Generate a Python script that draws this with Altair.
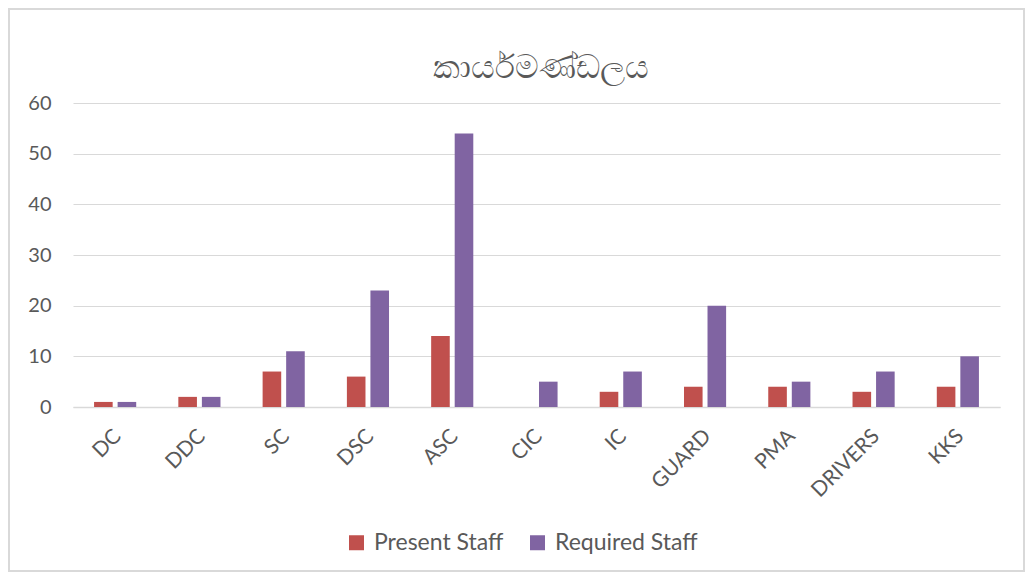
import altair as alt
import pandas as pd

categories = ["DC", "DDC", "SC", "DSC", "ASC", "CIC", "IC", "GUARD", "PMA", "DRIVERS", "KKS"]
present_staff = [1, 2, 7, 6, 14, 0, 3, 4, 4, 3, 4]
required_staff = [1, 2, 11, 23, 54, 5, 7, 20, 5, 7, 10]
series = ["Present Staff", "Required Staff"]
colors = ["#C0504D", "#8064A2"]
title_text = "කාර්යමණ්ඩලය"

rows = []
for c, p, r in zip(categories, present_staff, required_staff):
    rows.append({"cat": c, "series": series[0], "value": p})
    rows.append({"cat": c, "series": series[1], "value": r})
df = pd.DataFrame(rows)

W, H = 927, 304
FONT = "Lato"
GREY = "#595959"

bars = alt.Chart(df).mark_bar().encode(
    x=alt.X("cat:N", sort=categories, title=None,
            scale=alt.Scale(paddingInner=0.5, paddingOuter=0.25),
            axis=alt.Axis(labelAngle=-45, labelFontSize=21, labelColor=GREY, labelFont=FONT,
                          ticks=False, domainColor="#D9D9D9", domainWidth=1.5,
                          labelPadding=18, labelOffset=-5, grid=False)),
    xOffset=alt.XOffset("series:N", sort=series,
                        scale=alt.Scale(paddingInner=0.21, paddingOuter=0)),
    y=alt.Y("value:Q", title=None,
            scale=alt.Scale(domain=[0, 60], nice=False),
            axis=alt.Axis(values=[0, 10, 20, 30, 40, 50, 60], labelFontSize=20, labelColor=GREY,
                          labelFont=FONT, ticks=False, domain=False, gridColor="#D9D9D9",
                          gridWidth=1.2, labelPadding=22)),
    color=alt.Color("series:N", sort=series,
                    scale=alt.Scale(domain=series, range=colors),
                    legend=alt.Legend(title=None, orient="none", legendX=272, legendY=428,
                                      direction="horizontal", symbolType="square",
                                      symbolSize=225, symbolStrokeWidth=0,
                                      labelFontSize=23, labelColor=GREY, labelFont=FONT,
                                      labelOffset=6, columnPadding=22)),
)

border = alt.Chart(alt.Data(values=[{"a": 1}])).mark_rect(
    fill=None, stroke="#D9D9D9", strokeWidth=2, clip=False
).encode(
    x=alt.value(-64), x2=alt.value(951),
    y=alt.value(-94), y2=alt.value(468),
)

title = alt.Chart(alt.Data(values=[{"t": title_text}])).mark_text(
    fontSize=33, color=GREY, font="Noto Sans", baseline="middle", align="center", clip=False
).encode(
    text="t:N", x=alt.value(W / 2 + 4), y=alt.value(-35),
)

chart = alt.layer(border, bars, title).properties(
    width=W, height=H,
    autosize=alt.AutoSizeParams(type="none"),
    padding={"left": 65, "top": 95, "right": 26, "bottom": 166},
).configure_view(stroke=None)

chart.save("out.html", embed_options={"renderer": "svg", "actions": False})
